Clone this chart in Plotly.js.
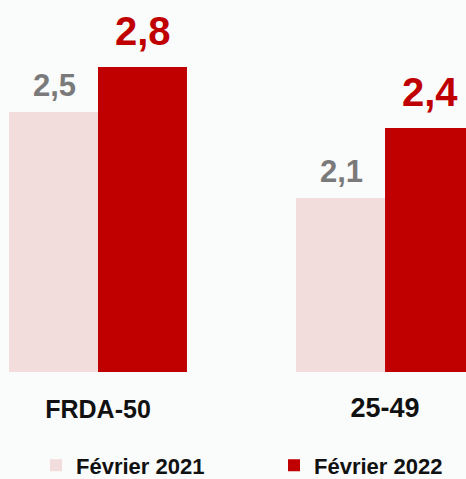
<!DOCTYPE html>
<html>
<head>
<meta charset="utf-8">
<script src="https://cdn.plot.ly/plotly-3.0.1.min.js"></script>
<style>
  html, body { margin: 0; padding: 0; background: #fafbfb; }
  #chart { width: 466px; height: 479px; }
</style>
</head>
<body>
<div id="chart"></div>
<script>
// ---- data ----
const categories = ['FRDA-50', '25-49'];
const seriesNames = ['Février 2021', 'Février 2022'];
const feb2021 = [2.5, 2.1];
const feb2022 = [2.8, 2.4];

// ---- styles ----
const colors = ['#f2dcdc', '#c00000'];
const labelColors = ['#7a7a7a', '#c00000'];
const labelSizes = [31, 40];
const FONT = 'Liberation Sans, Arial, sans-serif';

const axisIds = [['x', 'y'], ['x2', 'y2']];
const legendIds = ['legend', 'legend2'];
const seriesValues = [feb2021, feb2022];

const traces = [];
const annotations = [];
categories.forEach((cat, i) => {
  seriesValues.forEach((vals, s) => {
    traces.push({
      type: 'bar',
      name: seriesNames[s],
      x: [cat],
      y: [vals[i]],
      xaxis: axisIds[i][0],
      yaxis: axisIds[i][1],
      marker: { color: colors[s], line: { width: 0 } },
      showlegend: i === 0,
      legend: legendIds[s],
      hoverinfo: 'skip'
    });
    annotations.push({
      xref: axisIds[i][0],
      yref: axisIds[i][1],
      x: cat,
      y: vals[i],
      xshift: s === 0 ? -44 : 45,
      yshift: s === 0 ? 7 : 12,
      yanchor: 'bottom',
      showarrow: false,
      text: '<b>' + vals[i].toFixed(1).replace('.', ',') + '</b>',
      font: { family: FONT, size: labelSizes[s], color: labelColors[s] }
    });
  });
});

const legendStyle = (x) => ({
  orientation: 'h',
  x: x,
  xanchor: 'left',
  y: -0.251,
  yanchor: 'middle',
  bgcolor: 'rgba(0,0,0,0)',
  font: { family: FONT, size: 22, color: '#111', weight: 'bold' }
});

const layout = {
  width: 466,
  height: 479,
  margin: { l: 0, r: 0, t: 0, b: 107, autoexpand: false },
  paper_bgcolor: '#fafbfb',
  plot_bgcolor: 'rgba(0,0,0,0)',
  barmode: 'group',
  bargap: 0.092,
  bargroupgap: 0,
  separators: ', ',
  font: { family: FONT, color: '#111' },
  xaxis: {
    domain: [0, 196 / 466],
    range: [-0.5, 0.5],
    showgrid: false, zeroline: false, showline: false, ticks: '',
    ticklabelstandoff: 20,
    tickfont: { family: FONT, size: 25, color: '#111', weight: 'bold' },
    fixedrange: true
  },
  xaxis2: {
    domain: [287 / 466, 1],
    range: [-0.5, 0.413],
    showgrid: false, zeroline: false, showline: false, ticks: '',
    ticklabelstandoff: 17,
    tickfont: { family: FONT, size: 27, color: '#111', weight: 'bold' },
    fixedrange: true
  },
  yaxis: {
    anchor: 'x',
    range: [0.767, 3.247],
    visible: false,
    fixedrange: true
  },
  yaxis2: {
    anchor: 'x2',
    range: [1.354, 2.948],
    visible: false,
    fixedrange: true
  },
  showlegend: true,
  legend: legendStyle(36 / 466),
  legend2: legendStyle(274 / 466),
  annotations: annotations
};

Plotly.newPlot('chart', traces, layout, { displayModeBar: false, staticPlot: true });
</script>
</body>
</html>
